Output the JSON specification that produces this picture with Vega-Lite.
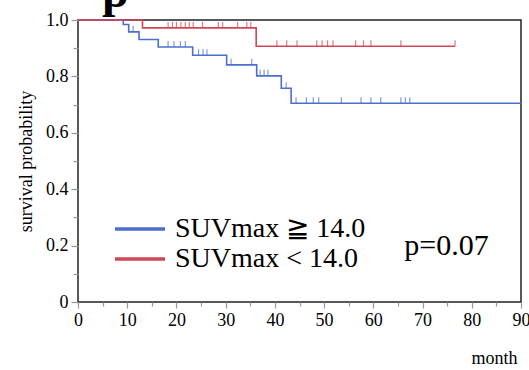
{
  "$schema": "https://vega.github.io/schema/vega-lite/v6.json",
  "autosize": {"type": "none"},
  "padding": {"left": 78, "top": 20, "right": 8, "bottom": 68},
  "width": 443,
  "height": 282,
  "background": "white",
  "config": {
    "view": {"stroke": "#222", "strokeWidth": 1.5},
    "font": "Liberation Serif",
    "axis": {"labelFont": "Liberation Serif", "titleFont": "Liberation Serif"},
    "legend": {"labelFont": "Liberation Serif", "titleFont": "Liberation Serif"},
    "text": {"font": "Liberation Serif"}
  },
  "datasets": {
    "curve": [
      {"group": "SUVmax ≧ 14.0", "month": 0, "surv": 1.0},
      {"group": "SUVmax ≧ 14.0", "month": 9.2, "surv": 0.984},
      {"group": "SUVmax ≧ 14.0", "month": 10.3, "surv": 0.958},
      {"group": "SUVmax ≧ 14.0", "month": 12.4, "surv": 0.931},
      {"group": "SUVmax ≧ 14.0", "month": 16.3, "surv": 0.904},
      {"group": "SUVmax ≧ 14.0", "month": 23.3, "surv": 0.875},
      {"group": "SUVmax ≧ 14.0", "month": 30.2, "surv": 0.841},
      {"group": "SUVmax ≧ 14.0", "month": 36.3, "surv": 0.802},
      {"group": "SUVmax ≧ 14.0", "month": 41.3, "surv": 0.758},
      {"group": "SUVmax ≧ 14.0", "month": 43.3, "surv": 0.705},
      {"group": "SUVmax ≧ 14.0", "month": 90, "surv": 0.705},
      {"group": "SUVmax < 14.0", "month": 0, "surv": 1.0},
      {"group": "SUVmax < 14.0", "month": 13.1, "surv": 0.972},
      {"group": "SUVmax < 14.0", "month": 36.2, "surv": 0.907},
      {"group": "SUVmax < 14.0", "month": 76.6, "surv": 0.907}
    ],
    "censor": [
      {"group": "SUVmax ≧ 14.0", "month": 11.2, "surv": 0.958},
      {"group": "SUVmax ≧ 14.0", "month": 18.3, "surv": 0.904},
      {"group": "SUVmax ≧ 14.0", "month": 19.5, "surv": 0.904},
      {"group": "SUVmax ≧ 14.0", "month": 20.8, "surv": 0.904},
      {"group": "SUVmax ≧ 14.0", "month": 21.8, "surv": 0.904},
      {"group": "SUVmax ≧ 14.0", "month": 24.5, "surv": 0.875},
      {"group": "SUVmax ≧ 14.0", "month": 25.4, "surv": 0.875},
      {"group": "SUVmax ≧ 14.0", "month": 26.2, "surv": 0.875},
      {"group": "SUVmax ≧ 14.0", "month": 31.1, "surv": 0.841},
      {"group": "SUVmax ≧ 14.0", "month": 35.3, "surv": 0.841},
      {"group": "SUVmax ≧ 14.0", "month": 37.0, "surv": 0.802},
      {"group": "SUVmax ≧ 14.0", "month": 37.8, "surv": 0.802},
      {"group": "SUVmax ≧ 14.0", "month": 38.6, "surv": 0.802},
      {"group": "SUVmax ≧ 14.0", "month": 42.3, "surv": 0.758},
      {"group": "SUVmax ≧ 14.0", "month": 44.3, "surv": 0.705},
      {"group": "SUVmax ≧ 14.0", "month": 46.4, "surv": 0.705},
      {"group": "SUVmax ≧ 14.0", "month": 47.8, "surv": 0.705},
      {"group": "SUVmax ≧ 14.0", "month": 48.9, "surv": 0.705},
      {"group": "SUVmax ≧ 14.0", "month": 53.5, "surv": 0.705},
      {"group": "SUVmax ≧ 14.0", "month": 57.5, "surv": 0.705},
      {"group": "SUVmax ≧ 14.0", "month": 59.5, "surv": 0.705},
      {"group": "SUVmax ≧ 14.0", "month": 61.5, "surv": 0.705},
      {"group": "SUVmax ≧ 14.0", "month": 65.6, "surv": 0.705},
      {"group": "SUVmax ≧ 14.0", "month": 66.5, "surv": 0.705},
      {"group": "SUVmax ≧ 14.0", "month": 67.4, "surv": 0.705},
      {"group": "SUVmax < 14.0", "month": 18.3, "surv": 0.972},
      {"group": "SUVmax < 14.0", "month": 19.2, "surv": 0.972},
      {"group": "SUVmax < 14.0", "month": 20.0, "surv": 0.972},
      {"group": "SUVmax < 14.0", "month": 20.9, "surv": 0.972},
      {"group": "SUVmax < 14.0", "month": 21.8, "surv": 0.972},
      {"group": "SUVmax < 14.0", "month": 22.6, "surv": 0.972},
      {"group": "SUVmax < 14.0", "month": 23.4, "surv": 0.972},
      {"group": "SUVmax < 14.0", "month": 25.3, "surv": 0.972},
      {"group": "SUVmax < 14.0", "month": 28.5, "surv": 0.972},
      {"group": "SUVmax < 14.0", "month": 29.4, "surv": 0.972},
      {"group": "SUVmax < 14.0", "month": 32.4, "surv": 0.972},
      {"group": "SUVmax < 14.0", "month": 34.3, "surv": 0.972},
      {"group": "SUVmax < 14.0", "month": 35.1, "surv": 0.972},
      {"group": "SUVmax < 14.0", "month": 40.4, "surv": 0.907},
      {"group": "SUVmax < 14.0", "month": 42.4, "surv": 0.907},
      {"group": "SUVmax < 14.0", "month": 44.5, "surv": 0.907},
      {"group": "SUVmax < 14.0", "month": 48.5, "surv": 0.907},
      {"group": "SUVmax < 14.0", "month": 49.6, "surv": 0.907},
      {"group": "SUVmax < 14.0", "month": 50.7, "surv": 0.907},
      {"group": "SUVmax < 14.0", "month": 51.8, "surv": 0.907},
      {"group": "SUVmax < 14.0", "month": 56.4, "surv": 0.907},
      {"group": "SUVmax < 14.0", "month": 58.0, "surv": 0.907},
      {"group": "SUVmax < 14.0", "month": 59.5, "surv": 0.907},
      {"group": "SUVmax < 14.0", "month": 65.6, "surv": 0.907},
      {"group": "SUVmax < 14.0", "month": 76.6, "surv": 0.907}
    ],
    "pval": [{"label": "p=0.07", "month": 66.3, "surv": 0.2}],
    "heading": [{"label": "p", "month": 4.9, "surv": 1.046}]
  },
  "encoding": {
    "x": {
      "field": "month", "type": "quantitative",
      "scale": {"domain": [0, 90], "nice": false, "zero": false},
      "axis": {
        "title": "month", "titleAnchor": "end", "titleAlign": "right", "titleX": 439, "titleFont": "Liberation Serif", "titleFontSize": 18, "titleFontWeight": "normal", "titleColor": "black", "titlePadding": 20,
        "values": [0, 5, 10, 15, 20, 25, 30, 35, 40, 45, 50, 55, 60, 65, 70, 75, 80, 85, 90],
        "labelExpr": "datum.value % 10 == 0 ? datum.label : ''",
        "labelFont": "Liberation Serif", "labelFontSize": 18, "labelColor": "black", "labelPadding": 3, "labelFlush": false, "labelOverlap": false,
        "tickColor": "#999", "tickWidth": 1.2,
        "tickSize": {"condition": {"test": "datum.value % 10 == 0", "value": 6}, "value": 4},
        "domain": false, "grid": false
      }
    },
    "y": {
      "field": "surv", "type": "quantitative",
      "scale": {"domain": [0, 1], "nice": false},
      "axis": {
        "title": "survival probability", "titleFont": "Liberation Serif", "titleFontSize": 18, "titleFontWeight": "normal", "titleColor": "black", "titlePadding": 10,
        "values": [0, 0.1, 0.2, 0.3, 0.4, 0.5, 0.6, 0.7, 0.8, 0.9, 1],
        "labelExpr": "datum.value == 0 ? '0' : (round(datum.value * 10) % 2 == 0 ? format(datum.value, '.1f') : '')",
        "labelFont": "Liberation Serif", "labelFontSize": 18, "labelColor": "black", "labelPadding": 3, "labelFlush": false, "labelOverlap": false,
        "tickColor": "#999", "tickWidth": 1.2,
        "tickSize": {"condition": {"test": "round(datum.value * 10) % 2 == 0", "value": 7}, "value": 5},
        "domain": false, "grid": false
      }
    }
  },
  "layer": [
    {
      "data": {"name": "curve"},
      "mark": {"type": "line", "interpolate": "step-after", "strokeWidth": 1.6},
      "encoding": {
        "color": {
          "field": "group", "type": "nominal",
          "scale": {"domain": ["SUVmax ≧ 14.0", "SUVmax < 14.0"], "range": ["#4a6fcf", "#d24552"]},
          "legend": {
            "title": null, "orient": "none", "legendX": 48, "legendY": 195,
            "symbolType": "M-5,0H5", "symbolSize": 100, "symbolStrokeWidth": 3.5,
            "labelFont": "Liberation Serif", "labelFontSize": 28, "labelColor": "black", "labelLimit": 0, "labelOffset": 21,
            "rowPadding": 2,
            "encode": {"symbols": {"enter": {"stroke": {"signal": "datum.value == 'SUVmax ≧ 14.0' ? '#1f6fb6' : '#e3231f'"}}, "update": {"stroke": {"signal": "datum.value == 'SUVmax ≧ 14.0' ? '#1f6fb6' : '#e3231f'"}}}}
          }
        }
      }
    },
    {
      "data": {"name": "censor"},
      "mark": {"type": "tick", "orient": "vertical", "size": 6, "thickness": 1.2, "yOffset": -3},
      "encoding": {
        "color": {"field": "group", "type": "nominal"}
      }
    },
    {
      "data": {"name": "pval"},
      "mark": {"type": "text", "align": "left", "baseline": "middle", "font": "Liberation Serif", "fontSize": 30, "color": "black"},
      "encoding": {"text": {"field": "label"}}
    },
    {
      "data": {"name": "heading"},
      "mark": {"type": "text", "align": "left", "baseline": "alphabetic", "font": "Liberation Serif", "fontSize": 48, "fontWeight": "bold", "color": "black", "clip": false},
      "encoding": {"text": {"field": "label"}}
    }
  ]
}
